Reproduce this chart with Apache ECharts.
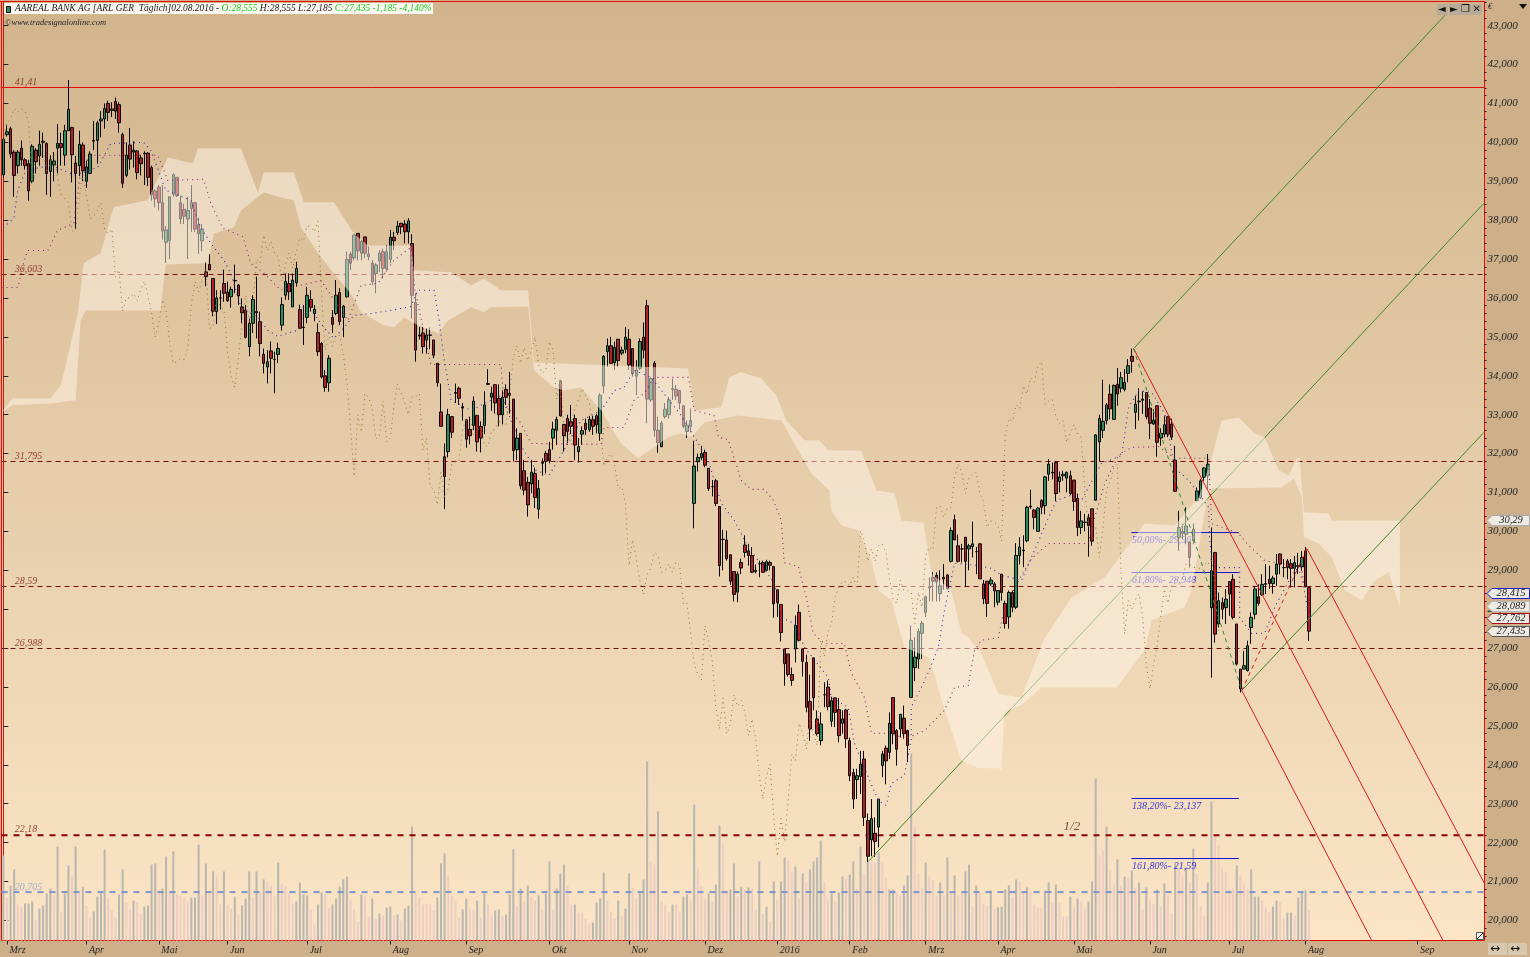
<!DOCTYPE html>
<html><head><meta charset="utf-8">
<style>html,body{margin:0;padding:0;background:#CDB08A;overflow:hidden}#c{width:1530px;height:957px}</style>
<script src="https://cdn.jsdelivr.net/npm/echarts@6/dist/echarts.min.js"></script>
</head><body><div id="c"></div>
<script>
// candles: [open, close, low, high]
const mar15=[[39.17,40.08,39.1,40.1],[40.2,40.27,40.15,40.46],[40.35,39.7,39.6,40.4],[39.75,39.15,38.6,39.8],[39.4,39.75,39.2,39.8],[39.85,39.55,39.4,40.05],[39.55,39.4,39.3,39.6],[39.45,38.75,38.5,39.55],[39,39.9,38.95,39.95],[39.8,39.5,39.2,39.85],[39.65,39.95,39.4,40.3],[40.03,40,39.6,40.25],[39.97,39.2,38.65,40],[39.25,39.55,38.6,39.67],[39.42,39.52,39,39.75],[39.85,39.97,39.2,40.47],[39.97,39.87,39.4,40.25],[39.67,40.3,39.4,40.45],[40.3,40.85,40.3,41.6],[40.38,39.68,38.97,40.4],[39.47,39.2,37.77,39.65],[39.4,39.95,39.13,40.3],[39.93,39.27,39,40]];
const apr15=[[39,39.37,38.83,39.53],[39.2,39.7,39.18,39.77],[40.03,40.05,39.8,40.55],[40.05,40.5,39.45,40.55],[40.55,40.6,40.13,40.8],[40.6,40.87,40.35,41],[41,40.77,40.55,41.07],[40.82,40.86,40.65,41.03],[41.05,40.8,40.6,41.15],[40.97,40.5,40.25,41.03],[40.2,38.95,38.83,40.25],[39.15,39.67,39.1,40],[39.93,39.57,39.3,40.37],[39.75,39.8,39.35,40.03],[39.78,39.22,39.05,39.8],[39.6,39.45,39.15,39.68],[39.7,39.72,38.9,39.77],[39.72,39.1,38.88,39.75],[39.35,38.65,38.5,39.4],[38.75,38.55,38.33,38.8]];
const may15=[[38.85,38.45,38.25,38.9],[38.45,37.72,37.5,38.9],[37.43,37.75,36.9,37.85],[37.48,38.6,37,38.6],[38.67,39.17,38.6,39.2],[39.1,38.63,38.6,39.1],[38.45,38.03,37.9,38.63],[38.28,38.1,37.9,38.42],[38.03,38.25,37,38.6],[38.3,38.45,37.7,38.9],[38.45,37.77,37.7,38.45],[37.88,37.65,37.13,38.07],[37.47,37.77,37.2,37.9],[36.67,36.55,36.3,36.93],[36.86,36.72,36.72,37.13],[36.5,35.66,35.53,36.5],[35.65,36,35.33,36.2],[36,36,35.7,36.2],[36.37,36.12,35.9,36.73]];
const jun15=[[36.15,35.93,35.9,36.42],[36.03,36.22,35.75,36.29],[36.45,36.44,36.12,36.86],[36.33,36.05,35.82,36.36],[35.77,35.62,35.35,35.99],[35.69,34.99,34.96,35.82],[34.75,35.35,34.5,35.47],[35.35,35.96,35.1,36.07],[35.62,35.65,34.96,36.55],[35.39,34.83,34.5,35.65],[34.55,34.32,34.06,34.7],[34.23,34.36,33.8,34.66],[34.64,34.45,34.06,34.88],[34.42,34.42,33.55,34.62],[34.55,34.7,34.33,34.85],[35.3,35.83,35.16,36.01],[36.07,36.42,35.95,36.63],[36.37,36.16,35.95,36.63],[35.77,36.46,35.77,36.63],[36.39,36.76,36.29,36.93],[35.7,35.22,35.22,35.83],[35.24,35.25,34.79,35.82]];
const jul15=[[35.5,36.07,35.35,36.29],[35.96,35.76,35.65,36.2],[35.6,35.71,35.4,35.82],[35.11,34.62,34.51,35.35],[34.83,33.97,33.93,34.87],[34,33.7,33.59,34.15],[33.82,34.45,33.59,34.53],[35.5,35.32,35.1,35.69],[35.6,36.07,35.56,36.46],[36.14,35.39,35.3,36.25],[35.5,35.79,34.99,35.82],[36.03,36.99,36.01,37.19],[37.13,36.89,36.72,37.19],[37.03,37.62,36.97,37.62],[37.66,37.21,36.97,37.66],[37.15,37.45,36.97,37.49],[37.57,37.15,37.02,37.57],[37.13,37.06,36.97,37.32],[36.9,36.42,36.33,36.97],[36.63,36.85,36.12,36.89],[36.95,37.15,36.67,37.23],[37.19,36.76,36.5,37.27],[36.76,37.19,36.67,37.36]];
const aug15=[[36.99,37.56,36.89,37.75],[37.56,37.47,37.23,37.7],[37.68,37.85,37.62,37.98],[37.92,37.83,37.64,37.92],[37.9,37.7,37.4,38],[37.7,37.98,37.4,38.05],[37.4,36.07,35.47,37.64],[35.88,34.66,34.36,36.13],[35.05,35.02,34.93,35.26],[35.1,34.75,34.57,35.26],[34.92,35.05,34.57,35.22],[35.05,35.04,34.68,35.24],[34.92,34.53,34.45,34.92],[34.32,33.82,33.72,34.32],[33.07,32.7,32.7,33.8],[31.92,31.41,30.57,32.26],[32.05,33,31.9,33.15],[32.95,32.55,32.4,32.95],[33.57,33.55,33.3,33.8],[33.68,33.42,33.25,33.72],[33.2,33.17,32.85,33.3]];
const sep15=[[32.87,32.37,32.15,32.87],[32.62,32.46,32.24,32.95],[32.72,33.35,32.6,33.47],[32.98,32.3,32.05,33],[32.7,32.4,32.03,32.83],[32.72,33.25,32.5,33.6],[33.8,33.78,33.76,34.17],[33.45,33.55,33.1,33.72],[33.77,33.3,33.03,33.78],[33.42,33,32.7,33.78],[33,33.45,32.75,33.63],[33.65,33.45,33.25,33.78],[33.5,33.55,33.03,34.1],[33.4,32.08,31.8,33.4],[32.1,32.4,31.83,32.65],[32.52,31.17,31.08,32.52],[31.56,31.06,30.93,31.84],[31.26,30.68,30.38,31.4],[31.22,31.52,30.98,31.84],[31.49,30.87,30.6,31.64],[30.57,31.1,30.33,31.32],[31.77,31.75,31.43,31.88],[32,31.8,31.5,32.07]];
const oct15=[[32.1,31.82,31.75,32.3],[32.4,32.63,32.1,32.82],[32.6,32.88,32.22,32.95],[33.87,32.97,32.95,33.87],[32.75,32.46,32.05,32.75],[32.9,32.57,32.27,33],[32.82,32.7,32.5,33.25],[32.9,32.22,31.83,33],[32.05,32.18,31.77,32.4],[32.5,32.59,32.22,32.7],[32.78,32.62,32.48,32.9],[32.62,32.88,32.56,32.97],[32.87,32.7,32.48,32.97],[32.97,32.74,32.52,33.02],[32.52,33.5,32.33,33.55],[33.74,34.5,33.55,34.53],[34.62,34.77,34.23,34.96],[34.77,34.32,34.3,35],[34.34,34.73,34.15,34.88],[34.94,34.39,34.23,34.94],[34.58,34.66,34.53,34.75],[34.68,34.99,34.58,35.25]];
const nov15=[[34.94,34.28,34.15,35.2],[34.7,34.06,33.98,34.7],[33.99,34.15,33.5,34.4],[34.19,34.88,34.15,34.96],[34.99,34.66,34.45,35.37],[35.8,33.4,32.78,35.95],[33.38,33.93,33.33,33.97],[34.32,32.6,32.43,34.38],[32.6,32.28,32.02,32.95],[32.18,32.78,32.16,32.84],[32.95,33.14,32.9,33.3],[33,33.38,32.9,33.46],[33.65,33.67,33.38,33.93],[33.65,33.48,33.38,33.76],[33.62,33.3,33.14,33.64],[33.23,32.7,32.65,33.25],[32.57,32.73,32.4,32.85],[32.7,32.85,32.55,33.16],[30.72,31.68,30.08,32.33],[31.79,31.9,31.54,32],[31.9,32,31.83,32.2]];
const dec15=[[32.03,31.7,31.65,32.1],[31.62,31.1,31.04,31.62],[31.15,31.15,30.9,31.32],[31.3,30.72,30.65,31.35],[30.64,29.12,28.84,30.64],[29.8,29.79,29,30.04],[29.78,29.3,29.25,30.02],[29.4,28.72,28.63,29.4],[28.97,28.38,28.2,28.97],[28.44,28.9,28.18,28.97],[29.2,29.06,28.9,29.3],[29.65,29.46,29.33,29.9],[29.5,29.38,29.12,29.68],[29.38,28.95,28.93,29.6],[28.97,29,28.92,29.15],[29.17,29.17,28.82,29.25],[29.2,28.95,28.95,29.25],[29,29.22,28.98,29.27],[29.2,29.13,29,29.25],[29.1,28.14,27.78,29.1]];
const jan16=[[28.5,28.17,27.8,28.5],[28.12,27.4,27.17,28.12],[26.98,26.6,26.03,26.98],[26.85,26.32,26.27,26.85],[26.32,26.17,26.03,26.5],[26.98,27.58,26.63,27.84],[27.92,27.2,27.17,28.12],[26.98,26.66,26.27,26.98],[26.63,25.48,25.35,26.83],[25.63,24.92,24.62,26.32],[26.75,25.72,25.4,26.75],[25.18,24.8,24.75,25.4],[24.62,25.05,24.5,25.35],[25.8,25.8,25.48,26.12],[26,25.5,25.4,26.17],[25.12,25.65,24.98,25.75],[25.72,25.35,24.97,25.73],[25.42,24.75,24.58,25.72],[25.07,25.18,24.8,25.4],[25.41,24.67,24.43,25.44]];
const feb16=[[24.62,23.72,23.58,24.7],[23.8,23.12,22.87,23.9],[23.62,23.72,23.12,23.9],[23.7,24.02,23.25,24.36],[24.15,22.65,22.43,24.36],[22.57,21.65,21.5,22.75],[22.07,22.62,21.65,23.12],[22.24,22.03,21.63,22.65],[22.4,23.12,21.88,23.12],[23.98,24.28,23.68,24.36],[24.43,24.1,23.5,24.5],[24.32,25.07,24.15,25.35],[25.73,24.8,24.53,25.73],[24.88,24.4,23.98,24.92],[24.92,25.3,24.7,25.3],[25.2,24.8,24.67,25.52],[24.88,24.5,24.07,24.9],[25.73,27.2,25.73,27.58],[26.5,26.77,26.15,27.28],[26.72,27.43,26.47,27.5],[27.38,27.64,26.72,27.7]];
const mar16=[[27.92,28.32,27.8,28.35],[28.55,28.57,28.2,28.82],[28.82,28.72,28.2,28.95],[28.87,28.7,28.2,28.95],[28.4,28.6,28.2,29],[28.78,28.82,28.5,29.16],[28.88,28.52,28.52,28.9],[29.23,30.02,29.2,30.1],[30.3,29.78,29.78,30.43],[29.63,29.23,29.2,29.92],[29.55,29.55,29.2,29.68],[29.85,29.23,28.57,29.85],[29.55,29.63,29,29.68],[29.61,29.68,29.33,30.25],[29.48,29.48,28.9,29.6],[29.68,28.78,28.78,29.7],[28.65,28.27,28.13,28.75],[28.72,28.15,27.8,28.72],[28.65,28.75,28.6,28.82],[28.65,28.47,28.05,28.7]];
const apr16=[[28.18,28.48,28.1,28.48],[28.9,28.43,28.22,28.9],[28.15,27.63,27.5,28.22],[27.8,28.43,27.5,28.48],[28.43,28.05,27.92,28.48],[28.05,29.38,28,29.7],[29.38,29.6,29.15,29.85],[29.5,29.52,29.08,29.9],[29.76,30.62,29.72,30.66],[30.63,30.65,30.58,31.07],[30.55,30.36,30.05,30.58],[30,30.6,30,30.63],[30.8,30.62,30.44,30.82],[30.66,31.4,30.44,31.43],[31.47,31.73,31.3,31.86],[31.5,31.52,31.34,31.77],[31.77,30.97,30.78,31.8],[31.28,31.4,31,31.54],[31.43,31.47,31.3,31.56],[31.37,31.52,31,31.54],[31.43,30.97,30.93,31.56]];
const may16=[[31.32,30.77,30.53,31.32],[30.85,30.1,29.88,30.97],[30.1,30.27,29.93,30.53],[30.23,30.24,30,30.45],[30.35,30.15,29.35,30.45],[30.58,29.75,29.63,30.58],[30.8,32.48,30.8,32.5],[32.3,32.9,31.8,33],[32.6,32.83,32.4,33.9],[32.85,33.25,32.75,33.3],[33.53,33.15,32.88,33.78],[32.88,33.75,32.87,33.78],[33.78,33.53,33.23,34.2],[33.68,33.95,33.57,34.1],[33.65,33.83,33.6,34.17],[34.06,34.26,33.83,34.43],[34.5,34.37,34.08,34.7],[33.06,33.27,32.63,33.48],[33.33,33.35,32.85,33.68],[33.37,33.4,33.02,33.6],[33.57,32.95,32.88,33.57]];
const jun16=[[33.17,32.78,32.37,33.4],[32.76,32.86,32.74,33.14],[33.23,32.29,31.92,33.23],[32.4,32.52,32.2,32.65],[32.5,32.74,32.42,32.97],[32.95,32.5,32.42,32.97],[32.76,32.42,32.35,32.9],[31.83,31.03,31.03,32.2],[29.84,30.1,29.5,30.53],[29.95,30,29.8,30.2],[29.93,30.14,29.67,30.62],[29.72,29.33,29.07,29.75],[29.76,30.06,29.67,30.2],[30.79,31.04,30.77,31.13],[30.87,31.3,30.83,31.35],[31.39,31.63,31.3,31.65],[31.43,31.73,31.09,31.99],[28.04,28.99,26.24,30.1],[29.46,27.36,27.14,29.46],[27.62,28.22,27.53,28.43],[28.17,28,27.74,28.3],[28.04,28.26,27.62,28.52]];
const jul16=[[28.71,28.39,27.83,28.71],[28.77,27.79,27.74,28.9],[27.62,26.59,26.55,27.62],[26.46,25.95,25.86,26.46],[26.46,26.55,26.46,26.93],[26.42,27.06,26.4,27.19],[27.53,27.79,27.11,27.92],[27.87,28.52,27.74,28.6],[28.32,28.15,28.09,28.64],[28.37,28.64,28.34,28.9],[28.64,28.66,28.39,29.16],[28.77,28.66,28.52,29.12],[28.66,28.8,28.4,28.86],[28.9,29.16,28.6,29.42],[29.42,29.16,28.9,29.43],[29.07,29.07,28.82,29.29],[29.24,29.07,28.77,29.29],[29.17,29.05,28.56,29.29],[29.05,29.2,28.56,29.37],[29.1,29.12,28.9,29.45],[29.09,29.33,28.99,29.5]];
const aug16=[[29.5,28.58,28.56,29.6],[28.555,27.435,27.185,28.555]];
const candles=[].concat(mar15,apr15,may15,jun15,jul15,aug15,sep15,oct15,nov15,dec15,jan16,feb16,mar16,apr16,may16,jun16,jul16,aug16);

const volumes=[85,43,55,71,36,34,37,37,39,20,32,35,47,52,45,94,29,47,75,64,94,47,54,35,23,29,44,47,91,42,30,23,46,71,38,31,40,38,27,34,35,76,77,50,52,84,50,89,46,45,43,38,43,43,96,45,77,47,69,64,36,69,36,32,44,26,35,42,69,43,69,48,61,59,55,44,78,57,54,47,37,39,58,46,45,31,16,36,48,47,33,36,42,54,61,64,41,31,19,46,44,24,42,22,27,25,33,34,25,26,20,32,35,114,47,43,36,37,36,30,43,77,87,65,45,40,23,31,42,32,31,40,23,47,36,25,30,31,25,26,46,91,34,52,39,55,44,40,45,31,47,79,31,52,67,76,55,36,36,28,28,22,17,18,38,42,68,40,29,22,40,25,32,67,53,42,47,61,179,78,76,129,39,36,28,36,36,29,44,46,40,136,72,54,42,47,39,56,115,97,50,51,77,44,54,51,53,52,31,79,27,34,19,59,41,59,83,80,69,74,42,67,58,71,79,83,100,59,41,47,39,48,64,62,66,79,52,94,67,80,78,78,88,78,63,51,51,48,45,55,65,187,114,67,53,78,64,60,45,58,45,83,49,65,45,48,69,76,34,55,48,37,35,50,32,33,34,51,55,43,61,59,48,53,48,36,33,33,50,58,38,56,38,24,24,44,33,42,39,32,39,59,162,85,90,114,70,57,81,55,64,62,70,53,58,31,53,41,37,51,34,57,45,27,77,72,64,73,58,92,67,34,25,58,139,104,95,73,69,52,52,75,65,57,52,71,44,44,40,33,28,34,40,38,22,28,28,25,43,48,50,31];
const volumeTones="gpggppgggp"+"ggggpgpggp"+"gpgppggggp"+"ppggppgppg"+"gggpggpgpp"+"ppgggpgpgp"+"pgppgpgggp"+"gpgpppgppp"+"pggggppggp"+"pgggggpppg"+"ppgpgpggpg"+"pgggpppppp"+"gggppppggp"+"pgpgppggpg"+"ggpgpgppgp"+"ggpgggppgp"+"pppggggppp"+"gpggppgggp"+"pgpppgppgg"+"pgpppgpggp"+"pggpgpgppg"+"pgpgpggppg"+"pgpggggppg"+"pggpggpgpg"+"ppgppggppg"+"ggpppgpppg"+"pgpgppggpg"+"pppgpggggp"+"gppgppppgg"+"pgpppgpgpp"+"gggppgppgp"+"gpgpgpgppg"+"pgppgppgpg"+"pppggppppp"+"pgpppgggpp"+"pggppggpgg"+"gp";

const cloudTop=[[-0.5,33.06],[2.6,33.42],[13.1,33.42],[15.9,33.75],[20.6,35.6],[22.2,36.89],[26.9,37.15],[30.5,38.33],[39.9,38.51],[45.5,39.61],[52.4,39.46],[53.8,39.85],[65.7,39.85],[70.4,38.71],[72,39.23],[80.3,39.23],[83.1,38.46],[91.4,38.46],[96.9,37.66],[100.8,37.35],[112.7,37.35],[113.5,36.71],[123.8,36.66],[129.3,36.32],[132.9,36.5],[137.6,36.2],[145.1,36.2],[146.7,34.34],[189.4,34.19],[191,33.11],[198.5,33.19],[200.7,33.96],[204,34.09],[209.6,33.93],[213.7,33.5],[216.5,32.85],[221.5,32.34],[225.6,32.34],[228.1,32.08],[237.2,32.08],[241.4,31.05],[246.4,30.98],[248.3,30.28],[254.4,30.23],[256.6,28.92],[262.1,28.48],[264.9,27.38],[266.8,27.27],[270.4,26.86],[275.1,25.83],[281.5,25.73],[287.6,27.2],[295.3,28.3],[304.5,28.82],[315.5,30.2],[323.8,30.15],[330.5,30.87],[334.1,31.9],[336.8,32.85],[341.5,32.93],[345.9,32.52],[348.7,32.42],[352.6,31.57],[355.4,31.44],[357.6,31.88],[358.4,31.88],[359.6,30.49],[366.4,30.46],[367.3,30.28],[386.1,30.28]];
const cloudBottom=[[-0.5,33.06],[2.6,33.24],[13.1,33.29],[20,33.37],[21.4,35.42],[22.8,35.68],[43.5,35.68],[44.9,36.86],[56.5,36.89],[58.2,37.66],[63.7,37.81],[65.7,38.25],[72,38.71],[77.6,38.56],[80.3,38.51],[82.3,37.81],[87,37.15],[91.4,36.63],[95.3,36.2],[96.9,36],[98.9,35.63],[105.2,35.3],[108,35.24],[110.8,35.5],[114.6,35.3],[120.2,35.09],[123,35.42],[129.3,35.76],[132.9,35.63],[134.8,35.76],[145.1,35.78],[146.7,34.14],[152.3,33.7],[155,33.62],[159.7,33.7],[165.3,33.11],[168.1,32.67],[170.8,32.26],[175.5,31.88],[180,32.16],[183.8,32.42],[187.4,32.52],[190.2,32.42],[193.8,32.8],[203.2,32.98],[215.1,32.85],[223.4,31.49],[228.4,31.05],[228.9,30.54],[231.7,30.15],[236.4,30.03],[240,29.25],[241.9,28.48],[245.5,28.23],[249.1,27.02],[255.8,26.76],[257.4,26.35],[259.4,25.66],[263,24.63],[264.9,24.11],[269.6,23.91],[275.4,23.91],[275.9,23.86],[276.8,25.35],[281.5,25.53],[287,25.99],[307.8,25.99],[315.5,26.94],[317.5,27.71],[326.6,28.05],[328.5,28.48],[332.7,30.8],[334.1,31.1],[353.4,31.13],[356.8,31.36],[359,30.87],[359.6,29.85],[363.7,29.69],[367.3,29.33],[370.9,28.48],[375.6,28.23],[379.2,28.74],[383,28.95],[386.1,28.05]];
const kijun=[[-0.5,36.27],[4,36.27],[5.6,36.89],[6.7,37.22],[12.3,37.22],[15,37.74],[19.5,37.92],[21.4,39.28],[24.2,39.67],[42.7,39.67],[45.5,39.02],[55.4,39.05],[57.4,38.43],[60.7,37.79],[66.2,37.58],[68.4,36.89],[71.8,36.66],[76.7,36.2],[87.8,36.45],[95.3,35.42],[98.9,36.32],[103.6,36.38],[108,36.97],[112.7,37.3],[113.8,36.2],[118.2,34.29],[137.6,34.29],[138.4,33.29],[143.1,32.78],[145.9,32.26],[165.3,32.24],[166.1,32.67],[171.6,32.67],[174.4,33.37],[177.2,33.55],[180,33.96],[189.4,33.96],[191,33.11],[196.5,32.98],[197.7,32.42],[200.4,32.36],[204,31.31],[206.8,31.08],[210.4,31.08],[212.9,30.8],[215.1,30.28],[215.9,29.2],[219.8,29.1],[222,28.3],[223.9,27.38],[227,27.12],[232.5,27.12],[234.5,26.35],[238.1,25.73],[240,24.81],[244.7,24.81],[249.7,24.68],[254.7,24.88],[260.2,25.4],[263,25.99],[266.8,26.04],[268.5,26.94],[270.4,27.2],[275.1,27.27],[276.8,28.05],[280.7,28.74],[284.3,29.3],[289,29.69],[300,29.69],[300.9,30.1],[304.5,31.23],[308.3,31.95],[312,32.16],[319.4,32.18],[323.8,31.88],[333.2,31.88],[334.1,30.2],[341.5,29.95],[343.8,29.69],[348.7,29.25],[358.1,29.07],[359.8,28.48]];
const tenkan=[[0,37.81],[2.9,38.05],[4,38.77],[6.2,39.28],[13.1,39.41],[20,39.15],[26.1,39.36],[29.7,39.97],[38.8,40],[40.8,39.79],[44.9,38.77],[51.8,38.51],[54.6,37.81],[57.4,37.4],[61,36.97],[62.9,36.63],[65.7,35.76],[70.4,35.5],[73.1,35.17],[75.9,35.01],[81.4,35.17],[83.1,35.6],[85.9,35.6],[88.6,35.24],[91.4,34.96],[94.2,35.24],[96.9,35.55],[101.6,35.6],[107.2,35.68],[112.7,35.78],[114.6,36.2],[119.1,36.2],[120.5,35.42],[121.8,34.47],[123.8,33.37],[129.3,33.11],[137.6,33.5],[143.1,32.21],[147.3,31.57],[150.9,31.44],[156.1,32.26],[159.7,32.85],[165.3,33.11],[168.9,33.62],[171.6,33.7],[174.4,34.14],[179.1,33.96],[187.4,32.98],[191.6,32.34],[194.9,31.82],[198.5,30.72],[202.1,30.28],[205.4,29.69],[209.6,29.13],[213.2,28.66],[215.1,27.79],[218.7,27.63],[221.5,27.02],[228.1,26.25],[228.9,25.73],[233.6,25.48],[235.3,24.55],[239.2,23.67],[241.9,23.08],[244.1,22.96],[245.5,23.52],[249.1,23.73],[251,24.63],[251,25.48],[253.8,25.99],[256,26.43],[258.5,27.02],[260.2,27.97],[263,29.18],[269,29.13],[273.2,29.05],[276,28.87],[281.5,28.74],[289,30.36],[291.2,30.8],[295.3,30.93],[298.1,30.8],[303.6,31.75],[309.2,31.95],[311.1,33.19],[313.9,33.62],[317.5,33.57],[321.1,33.03],[323.8,31.64],[327.7,31.31],[333.2,30.62],[333.5,29.77],[334.1,29.33],[335.4,29.07],[341.8,29.07],[341.8,27.79],[345.1,27.38],[348.7,27.38],[351.5,28.05],[357,29],[359,29.07],[359.8,28.41],[361,27.79]];

const forkGreen=[[[312.5,34.7],[399.1,43.32]],[[239.4,21.54],[409.3,38.43]],[[342.4,25.91],[409.3,32.54]]];
const forkRed=[[[312.5,34.7],[398,19.49]],[[342.4,25.91],[378.3,19.49]],[[360.4,29.56],[409.5,20.95]]];
const swingDown=[[312.5,34.7],[342.4,25.91]];
const swingUp=[[342.4,25.91],[360.4,29.56]];
const levels=[{v:36.603,t:"36,603"},{v:31.797,t:"31,795"},{v:28.584,t:"28,59"},{v:26.99,t:"26,988"}];
const fibs=[{v:29.97,t:"50,00%- 29,96"},{v:28.943,t:"61,80%- 28,948"},{v:23.135,t:"138,20%- 23,137"},{v:21.592,t:"161,80%- 21,59"}];
const fibSpan=[311.9,341.6];
const monthIndex=[1,23,43,62,84,107,128,151,173,194,214,234,255,275,296,317,339,360,391];
const monthNames=["Mrz","Apr","Mai","Jun","Jul","Aug","Sep","Okt","Nov","Dez","2016","Feb","Mrz","Apr","Mai","Jun","Jul","Aug","Sep"];
const priceTicks=[20,21,22,23,24,25,26,27,28,29,30,31,32,33,34,35,36,37,38,39,40,41,42,43];
const minorTicks=[];for(let k=98;k<=218;k++){if(k%5)minorTicks.push(k/5);}
const tags=[{v:30.29,t:"30,29",b:"#AAAAAA"},{v:28.415,t:"28,415",b:"#1C1CC8"},{v:28.089,t:"28,089",b:"#BBBBBB"},{v:27.762,t:"27,762",b:"#A01020"},{v:27.435,t:"27,435",b:"#555555"}];

const SERIF='"Liberation Serif","Times New Roman",serif';
const N=410, YMIN=19.485, YMAX=43.62;
const closes=candles.map(c=>c[1]);
const chikou=closes.slice(25).map((c,i)=>[i,c]);
const line=(data,color,width,type,z,extra)=>Object.assign({type:'line',xAxisIndex:1,yAxisIndex:0,data,symbol:'none',silent:true,z,lineStyle:{color,width,type},clip:true},extra||{});
const textMark=(items,z)=>({type:'scatter',xAxisIndex:1,yAxisIndex:0,symbolSize:1,silent:true,z,itemStyle:{color:'rgba(0,0,0,0)'},data:items.map(o=>({value:[o.x,o.y],label:{show:true,position:'right',distance:0,offset:[0,o.dy],formatter:()=>o.t,color:o.c,fontSize:o.s||10,fontStyle:'italic',fontFamily:SERIF}}))});

const series=[
 {type:'bar',xAxisIndex:0,yAxisIndex:2,z:1,silent:true,barWidth:2,data:volumes.map((h,i)=>({value:h,itemStyle:{color:volumeTones[i]==='g'?'#B9B6B0':'#EDCDC2'}}))},
 line([[-0.5,41.41],[409.5,41.41]],'#E80808',1,'solid',2),
 ...levels.map(l=>line([[-0.5,l.v],[409.5,l.v]],'#701010',1,[5,4],2)),
 line([[-0.5,22.19],[409.5,22.19]],'#8B0000',2,[6,6],2),
 line([[-0.5,20.73],[409.5,20.73]],'#7F96CC',2,[6,6],2),
 ...fibs.map(f=>line([[fibSpan[0],f.v],[fibSpan[1],f.v]],'#1010D0',1,'solid',2)),
 textMark(fibs.map(f=>({x:fibSpan[0],y:f.v,t:f.t,dy:8,c:'#0000E0',s:10})),2),
 {type:'candlestick',xAxisIndex:0,yAxisIndex:0,z:3,silent:true,barWidth:3,data:candles,itemStyle:{color:'#2E8B57',color0:'#B22222',borderColor:'#0A0A0A',borderColor0:'#0A0A0A',borderColorDoji:'#0A0A0A',borderWidth:1}},
 ...forkGreen.slice(1,2).map(p=>line(p,'#3C8A28',1,'solid',4)),
 {type:'custom',xAxisIndex:1,yAxisIndex:0,z:5,silent:true,data:[[0,30]],renderItem:(p,api)=>({type:'polygon',shape:{points:cloudTop.concat(cloudBottom.slice().reverse()).map(q=>api.coord(q))},style:{fill:'rgba(255,246,236,0.5)'}})},
 ...[forkGreen[0],forkGreen[2]].map(p=>line(p,'#3C8A28',1,'solid',6)),
 ...forkRed.map(p=>line(p,'#D81E1E',1,'solid',6)),
 line(swingDown,'#2E8B2E',1,[4,4],6),
 line(swingUp,'#D81E1E',1,[4,4],6),
 line(chikou,'#8E7A28',1,[1,4],6),
 line(kijun,'#8A1E6E',1.1,[1,4],6),
 line(tenkan,'#3524B4',1.1,[1,4],6),
 textMark([{x:3,y:41.41,t:"41,41",dy:-5,c:'#7A1A10'}].concat(levels.map(l=>({x:3,y:l.v,t:l.t,dy:-5,c:'#7A1A10'})),[{x:3,y:22.18,t:"22,18",dy:-6,c:'#7A1A10'},{x:3,y:20.705,t:"20,705",dy:-6,c:'#8AA0D0'},{x:293,y:22.18,t:"1/2",dy:-9,c:'#5A2A20',s:13}]),7),
 {type:'custom',xAxisIndex:1,yAxisIndex:0,z:8,silent:true,clip:false,data:tags.map(t=>[0,t.v]),renderItem:(p,api)=>{
   const t=tags[p.dataIndex],y=Math.round(api.coord([0,t.v])[1])+0.5;
   return {type:'group',children:[
     {type:'polygon',shape:{points:[[1487,y],[1492,y-5],[1529.5,y-5],[1529.5,y+5],[1492,y+5]]},style:{fill:'#EEEAE4',stroke:t.b,lineWidth:1}},
     {type:'text',style:{x:1511,y:y,text:t.t,textAlign:'center',textVerticalAlign:'middle',fill:'#222',font:'italic 10.5px '+SERIF}}
   ]};
 }}
];

const chart=echarts.init(document.getElementById('c'),null,{renderer:'canvas',width:1530,height:957});
chart.setOption({
 animation:false,
 backgroundColor:'#CDB08A',
 tooltip:{show:false},
 grid:{left:1.5,top:1.5,width:1483,height:939,show:true,borderColor:'#E80808',borderWidth:1,
  backgroundColor:{type:'linear',x:0,y:0,x2:0,y2:1,colorStops:[{offset:0,color:'#D1B48C'},{offset:1,color:'#FBE5C6'}]}},
 xAxis:[
  {type:'category',data:Array.from({length:N},(_,i)=>String(i)),boundaryGap:true,axisLine:{show:false},axisTick:{show:false},axisLabel:{show:false},splitLine:{show:false}},
  {type:'value',min:-0.5,max:N-0.5,position:'bottom',splitLine:{show:false},axisLine:{show:false},
   axisTick:{show:true,length:4,inside:false,customValues:monthIndex,lineStyle:{color:'#222',width:1}},
   axisLabel:{show:true,customValues:monthIndex,margin:5,align:'left',hideOverlap:false,color:'#222',fontSize:10,fontStyle:'italic',fontFamily:SERIF,formatter:v=>" "+(monthNames[monthIndex.indexOf(v)]||"")}}
 ],
 yAxis:[
  {type:'value',min:YMIN,max:YMAX,position:'right',splitLine:{show:false},axisLine:{show:true,lineStyle:{color:'#E80808',width:1}},
   axisTick:{show:true,length:5,customValues:priceTicks,lineStyle:{color:'#222'}},
   axisLabel:{show:true,customValues:priceTicks,margin:3,color:'#222',fontSize:11,fontStyle:'italic',fontFamily:SERIF,formatter:v=>v+",000"}},
  {type:'value',min:YMIN,max:YMAX,position:'right',splitLine:{show:false},axisLine:{show:false},axisLabel:{show:false},
   axisTick:{show:true,length:2,customValues:minorTicks,lineStyle:{color:'#222'}}},
  {type:'value',min:0,max:939,show:false,splitLine:{show:false}}
 ],
 series,
 graphic:[
  {type:'line',shape:{x1:0,y1:1.5,x2:1485,y2:1.5},style:{stroke:'#E80808',lineWidth:1},z:19},
  {type:'rect',left:4,top:3,shape:{width:429,height:11},style:{fill:'#FAF7F0'},z:20},
  {type:'rect',left:6,top:6,shape:{width:4,height:6},style:{fill:'#2E8B57',stroke:'#111',lineWidth:1},z:21},
  {type:'text',left:15,top:4,z:21,style:{text:'{k|AAREAL BANK AG [ARL GER  Täglich]02.08.2016 - }{g|O:28,555 }{k|H:28,555 L:27,185 }{g|C:27,435 -1,185 -4,140%}',rich:{k:{fill:'#1A1A1A',font:'italic 9.45px '+SERIF},g:{fill:'#1FCB1F',font:'italic 9.45px '+SERIF}}}},
  {type:'text',left:5,top:18,z:21,style:{text:'©www.tradesignalonline.com',fill:'#222',font:'italic 8.5px '+SERIF}},
  ...[1437,1449,1460,1471].map(x=>({type:'rect',left:x,top:4,shape:{width:11,height:11},style:{fill:'#B8AC98'},z:20})),
  {type:'text',left:1438,top:4,z:21,style:{text:'◄',fill:'#111',font:'bold 10px "DejaVu Sans"'}},
  {type:'text',left:1450,top:4,z:21,style:{text:'►',fill:'#111',font:'bold 10px "DejaVu Sans"'}},
  {type:'text',left:1461,top:4,z:21,style:{text:'❐',fill:'#111',font:'10px "DejaVu Sans"'}},
  {type:'text',left:1472.5,top:4,z:21,style:{text:'✕',fill:'#222',font:'10px "DejaVu Sans"'}},
  {type:'text',left:1488,top:3,z:21,style:{text:'€',fill:'#222',font:'italic 8px '+SERIF}},
  {type:'polygon',shape:{points:[[1519,4],[1527,4],[1523,9]]},style:{fill:'#111'},z:21},
  {type:'rect',left:1476,top:932,shape:{width:7,height:7},style:{fill:'#F5F1EA',stroke:'#555',lineWidth:1},z:21},
  {type:'line',shape:{x1:1477,y1:939,x2:1483,y2:933},style:{stroke:'#222',lineWidth:1},z:22},
  {type:'rect',left:1488,top:943,shape:{width:19,height:12},style:{fill:'#D8C8AE'},z:20},
  {type:'rect',left:1508,top:943,shape:{width:19,height:12},style:{fill:'#D8C8AE'},z:20},
  {type:'text',left:1490,top:943,z:21,style:{text:'↔',fill:'#111',font:'12px "DejaVu Sans"'}},
  {type:'text',left:1510,top:943,z:21,style:{text:'↔',fill:'#111',font:'12px "DejaVu Sans"'}}
 ]
});
</script></body></html>
